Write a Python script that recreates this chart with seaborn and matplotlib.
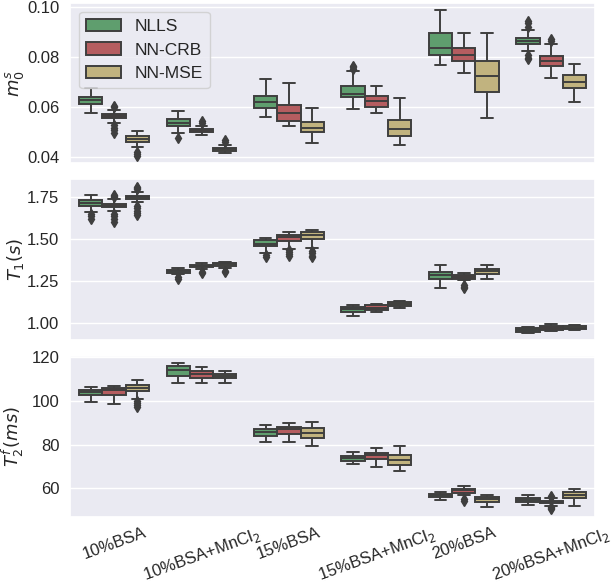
# Box plots of m0s, T1 and T2f per phantom for three fitting methods

# %% Import packages

import pandas as pd
import matplotlib
matplotlib.use('Agg')
import matplotlib.pyplot as plt
import seaborn as sns

# %% Data (lower whisker, Q1, median, Q3, upper whisker)

categories = ['10%BSA', '10%BSA+MnCl$_2$', '15%BSA', '15%BSA+MnCl$_2$',
              '20%BSA', '20%BSA+MnCl$_2$']
methods = ['NLLS', 'NN-CRB', 'NN-MSE']

#m0s panel
m0s_nlls = [(0.0574, 0.0610, 0.0626, 0.0640, 0.0675),
            (0.0495, 0.0522, 0.0535, 0.0550, 0.0585),
            (0.0558, 0.0594, 0.0619, 0.0645, 0.0710),
            (0.0591, 0.0640, 0.0653, 0.0682, 0.0743),
            (0.0770, 0.0808, 0.0838, 0.0895, 0.0988),
            (0.0825, 0.0852, 0.0865, 0.0878, 0.0909)]
m0s_nlls_out = [[], [0.0474], [], [0.0752, 0.0760, 0.0766], [],
                [0.0922, 0.0935, 0.0945, 0.0808, 0.0798, 0.0792]]
m0s_crb = [(0.0535, 0.0554, 0.0563, 0.0571, 0.0588),
           (0.0488, 0.0498, 0.0506, 0.0512, 0.0522),
           (0.0524, 0.0545, 0.0575, 0.0608, 0.0695),
           (0.0575, 0.0600, 0.0623, 0.0643, 0.0683),
           (0.0735, 0.0784, 0.0809, 0.0835, 0.0895),
           (0.0717, 0.0766, 0.0784, 0.0805, 0.0851)]
m0s_crb_out = [[0.0598, 0.0603, 0.0526, 0.0515, 0.0505, 0.0495],
               [0.0536, 0.0542], [], [], [], [0.0866, 0.0872]]
m0s_mse = [(0.0439, 0.0458, 0.0471, 0.0483, 0.0502),
           (0.0414, 0.0423, 0.0429, 0.0436, 0.0445),
           (0.0454, 0.0497, 0.0516, 0.0539, 0.0597),
           (0.0445, 0.0484, 0.0509, 0.0548, 0.0636),
           (0.0555, 0.0661, 0.0723, 0.0784, 0.0895),
           (0.0619, 0.0676, 0.0701, 0.0729, 0.0773)]
m0s_mse_out = [[0.0418, 0.0410, 0.0402], [0.0458, 0.0465], [], [], [], []]

#T1 panel
t1_nlls = [(1.664, 1.700, 1.717, 1.731, 1.761),
           (1.292, 1.299, 1.308, 1.316, 1.324),
           (1.418, 1.459, 1.470, 1.493, 1.508),
           (1.038, 1.065, 1.080, 1.095, 1.103),
           (1.208, 1.261, 1.282, 1.305, 1.342),
           (0.940, 0.947, 0.958, 0.970, 0.975)]
t1_nlls_out = [[1.648, 1.635, 1.620], [1.270, 1.262], [1.405, 1.395], [], [], []]
t1_crb = [(1.670, 1.689, 1.700, 1.712, 1.736),
          (1.322, 1.331, 1.339, 1.346, 1.354),
          (1.442, 1.489, 1.510, 1.523, 1.540),
          (1.061, 1.076, 1.090, 1.107, 1.114),
          (1.252, 1.263, 1.270, 1.285, 1.295),
          (0.951, 0.954, 0.970, 0.981, 0.989)]
t1_crb_out = [[1.750, 1.758, 1.765, 1.650, 1.635, 1.620, 1.600],
              [1.305, 1.295], [1.432, 1.420, 1.410, 1.400], [],
              [1.225, 1.215, 1.205], []]
t1_mse = [(1.719, 1.736, 1.748, 1.759, 1.780),
          (1.329, 1.339, 1.348, 1.356, 1.365),
          (1.445, 1.499, 1.522, 1.540, 1.552),
          (1.086, 1.099, 1.112, 1.124, 1.131),
          (1.259, 1.289, 1.306, 1.322, 1.342),
          (0.958, 0.962, 0.971, 0.981, 0.985)]
t1_mse_out = [[1.797, 1.805, 1.812, 1.698, 1.685, 1.670, 1.655, 1.645],
              [1.310, 1.303], [1.430, 1.415, 1.400, 1.390], [], [], []]

#T2f panel
t2f_nlls = [(99.6, 102.6, 104.0, 105.1, 106.3),
            (108.4, 111.5, 114.0, 115.9, 117.2),
            (81.3, 84.1, 85.9, 87.2, 89.2),
            (71.0, 72.6, 74.0, 75.0, 76.7),
            (54.8, 56.0, 56.9, 57.6, 58.6),
            (52.6, 53.8, 54.8, 55.5, 57.0)]
t2f_nlls_out = [[], [], [], [], [], []]
t2f_crb = [(98.5, 102.6, 105.1, 105.9, 106.9),
           (108.4, 110.6, 112.5, 113.8, 115.6),
           (81.3, 85.1, 87.0, 87.9, 89.8),
           (69.8, 73.5, 75.3, 76.4, 78.4),
           (57.0, 58.0, 59.1, 59.8, 61.0),
           (52.2, 53.4, 53.9, 54.4, 55.5)]
t2f_crb_out = [[], [], [], [], [55.0, 54.4], [56.1, 56.5, 51.7, 51.0, 50.5]]
t2f_mse = [(101.0, 104.4, 105.9, 107.1, 109.4),
           (108.4, 110.6, 111.6, 112.5, 113.5),
           (79.3, 83.0, 85.3, 87.5, 90.6),
           (67.9, 70.9, 73.2, 75.5, 79.4),
           (51.4, 53.9, 55.1, 56.1, 57.2),
           (52.0, 55.5, 57.0, 58.5, 59.8)]
t2f_mse_out = [[100.0, 99.0, 98.0, 97.2], [], [], [], [], []]

# %% Build long-form tables

def boxSample(stats, outliers, rep = 20):
    #Sample whose quartiles/whiskers reproduce the read-off box
    lo, q1, med, q3, hi = stats
    return [lo] + [q1]*rep + [med]*rep + [q3]*rep + [hi] + list(outliers)

def buildFrame(statsList, outList):
    rows = []
    for method, stats, outs in zip(methods, statsList, outList):
        for cat, st, ol in zip(categories, stats, outs):
            for v in boxSample(st, ol):
                rows.append((cat, method, v))
    return pd.DataFrame(rows, columns = ['phantom', 'method', 'value'])

dfM0s = buildFrame([m0s_nlls, m0s_crb, m0s_mse], [m0s_nlls_out, m0s_crb_out, m0s_mse_out])
dfT1 = buildFrame([t1_nlls, t1_crb, t1_mse], [t1_nlls_out, t1_crb_out, t1_mse_out])
dfT2f = buildFrame([t2f_nlls, t2f_crb, t2f_mse], [t2f_nlls_out, t2f_crb_out, t2f_mse_out])

# %% Plot

sns.set_theme(style = 'darkgrid')
plt.rcParams['font.family'] = ['Liberation Sans', 'DejaVu Sans']
plt.rcParams['xtick.labelsize'] = 12
plt.rcParams['ytick.labelsize'] = 12
plt.rcParams['axes.labelsize'] = 13
plt.rcParams['legend.fontsize'] = 12.5

deep = sns.color_palette('deep')
pal = [deep[2], deep[3], deep[8]]
lineCol = '#3f3f3f'

fig, axes = plt.subplots(nrows = 3, ncols = 1, figsize = (6.12, 5.85), dpi = 100, sharex = True)
plt.subplots_adjust(left = 0.115, right = 0.972, top = 0.995, bottom = 0.117, hspace = 0.1)

panels = [(dfM0s, r'$m_0^s$', [0.04, 0.06, 0.08, 0.10]),
          (dfT1, r'$T_1(s)$', [1.00, 1.25, 1.50, 1.75]),
          (dfT2f, r'$T_2^f(ms)$', [60, 80, 100, 120])]

for i, (df, lab, ticks) in enumerate(panels):
    ax = axes[i]
    sns.boxplot(data = df, x = 'phantom', y = 'value', hue = 'method',
                order = categories, hue_order = methods, palette = pal,
                linecolor = lineCol, linewidth = 1.4, fliersize = 5,
                flierprops = dict(marker = 'd', markerfacecolor = lineCol,
                                  markeredgecolor = lineCol),
                legend = (i == 0), ax = ax)
    ax.set_yticks(ticks)
    ax.set_ylabel(lab, labelpad = 1)
    ax.set_xlabel('')
    ax.tick_params(axis = 'y', pad = 2)

#Legend in top panel
sns.move_legend(axes[0], 'upper left', title = None)

#Rotate bottom tick labels
axes[2].tick_params(axis = 'x', rotation = 20, pad = 0)

fig.align_ylabels(axes)

fig.savefig('out.png', dpi = 100)
